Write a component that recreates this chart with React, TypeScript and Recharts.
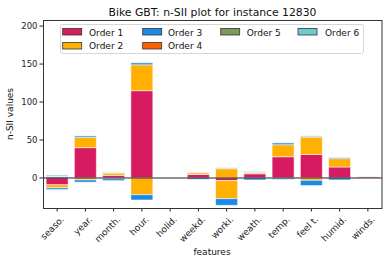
import { BarChart, Bar, XAxis, YAxis, ReferenceLine } from "recharts";

const features = [
  "seaso.", "year.", "month.", "hour.", "holid.", "weekd.",
  "worki.", "weath.", "temp.", "feel t.", "humid.", "winds.",
];

// positive / negative parts of each order, per feature
const order1Pos = [0, 40, 3.5, 115, 0, 4.7, 0, 5.6, 28, 31, 14.5, 1.2];
const order1Neg = [-9, 0, -0.5, 0, 0, 0, -3.5, 0, 0, 0, 0, 0];
const order2Pos = [0, 13.6, 3, 34, 0, 2.2, 12.2, 1.3, 15.8, 22.9, 11, 0];
const order2Neg = [-4, -2.5, -0.5, -22, 0, 0, -23.7, 0, -0.5, -3, 0, 0];
const order3Pos = [2, 2, 0.7, 2.6, 0, 0.5, 0.5, 0.3, 2.6, 1.2, 1.7, 0];
const order3Neg = [-2.6, -3, -2.5, -7, 0, -1.8, -8.8, -2.6, -1.5, -7, -2.6, 0];
const order4Pos = [0, 0, 0, 0, 0, 0, 0, 0, 0, 0, 0, 0.4];
const order4Neg = [0, 0, 0, 0, 0, 0, 0, 0, 0, 0, 0, 0];
const order5Pos = [0.5, 0, 0.4, 0, 0, 0.3, 1.2, 1, 0, 0, 0, 0];
const order5Neg = [0, 0, 0, 0, 0, 0, 0, 0, 0, 0, 0, 0];
const order6Pos = [1.5, 0.4, 0.4, 0, 0, 0, 0.3, 0, 0.3, 0.5, 0.3, 0];
const order6Neg = [-0.4, 0, 0, 0, 0, 0, 0, 0, 0, 0, 0, 0];

const orderNames = ["Order 1", "Order 2", "Order 3", "Order 4", "Order 5", "Order 6"];
const orderColors = ["#D81B60", "#FFB000", "#1E88E5", "#FE6100", "#7D9A5B", "#6CCCCF"];
const posParts = [order1Pos, order2Pos, order3Pos, order4Pos, order5Pos, order6Pos];
const negParts = [order1Neg, order2Neg, order3Neg, order4Neg, order5Neg, order6Neg];

const yTicks = [0, 50, 100, 150, 200];

const data = features.map((f, i) => {
  const row: Record<string, number | string> = { feature: f };
  orderNames.forEach((_, k) => {
    row[`p${k}`] = posParts[k][i];
    row[`n${k}`] = negParts[k][i];
  });
  return row;
});

const FONT = "DejaVu Sans";

// matplotlib column-major legend layout (ncol=4)
const legendCols = [
  { sx: 62.7, tx: 89, items: [0, 1] },
  { sx: 142.7, tx: 168, items: [2, 3] },
  { sx: 220.7, tx: 246.7, items: [4] },
  { sx: 298, tx: 325, items: [5] },
];

const XTick = ({ x, y, payload }: any) => (
  <text
    transform={`translate(${x + 3},${y + 2}) rotate(-45)`}
    textAnchor="end"
    dy="0.7em"
    fontSize={9}
    fontFamily={FONT}
    fill="#222"
  >
    {payload.value}
  </text>
);

export default function App() {
  return (
    <div style={{ position: "absolute", left: 0, top: 0, width: 388, height: 264, background: "#fff" }}>
      <BarChart
        width={388}
        height={264}
        data={data}
        stackOffset="sign"
        barCategoryGap="11%"
        margin={{ top: 20, right: 6, bottom: 0, left: 0 }}
      >
        <XAxis
          dataKey="feature"
          interval={0}
          height={56}
          axisLine={false}
          tickSize={3.5}
          tickLine={{ stroke: "#222" }}
          tick={<XTick />}
        />
        <YAxis
          width={43}
          domain={[-39.5, 208]}
          ticks={yTicks}
          allowDataOverflow
          axisLine={false}
          tickSize={3.5}
          tickLine={{ stroke: "#222" }}
          tick={{ fontSize: 8.5, fontFamily: FONT, fill: "#222" }}
        />
        {orderNames.map((name, k) => (
          <Bar
            key={`p${k}`}
            dataKey={`p${k}`}
            name={name}
            stackId="a"
            fill={orderColors[k]}
            stroke="#fff"
            strokeWidth={0.8}
            strokeOpacity={0.7}
            isAnimationActive={false}
          />
        ))}
        {orderNames.map((name, k) => (
          <Bar
            key={`n${k}`}
            dataKey={`n${k}`}
            name={name}
            stackId="a"
            fill={orderColors[k]}
            stroke="#fff"
            strokeWidth={0.8}
            strokeOpacity={0.7}
            isAnimationActive={false}
          />
        ))}
        <ReferenceLine y={0} stroke="#222" strokeWidth={1} />
      </BarChart>
      <svg
        width={388}
        height={264}
        style={{ position: "absolute", left: 0, top: 0, pointerEvents: "none" }}
        fontFamily={FONT}
      >
        <rect x={43.5} y={20.5} width={338.5} height={188} fill="none" stroke="#333" strokeWidth={1} />
        <text x={212.5} y={16} textAnchor="middle" fontSize={10.8} fill="#111">
          Bike GBT: n-SII plot for instance 12830
        </text>
        <text x={212} y={255} textAnchor="middle" fontSize={9} fill="#111">
          features
        </text>
        <text transform="translate(13,114) rotate(-90)" textAnchor="middle" fontSize={9} fill="#111">
          n-SII values
        </text>
        <rect x={60.5} y={24.5} width={303} height={29} rx={2} fill="#fff" fillOpacity={0.85} stroke="#d6d6d6" />
        {legendCols.map((col) =>
          col.items.map((k, r) => (
            <g key={k}>
              <rect
                x={col.sx}
                y={28.5 + r * 14}
                width={19}
                height={6.5}
                fill={orderColors[k]}
                stroke="#333"
                strokeWidth={0.8}
              />
              <text x={col.tx} y={35.8 + r * 13.2} fontSize={9} fill="#111">
                {orderNames[k]}
              </text>
            </g>
          ))
        )}
      </svg>
    </div>
  );
}
